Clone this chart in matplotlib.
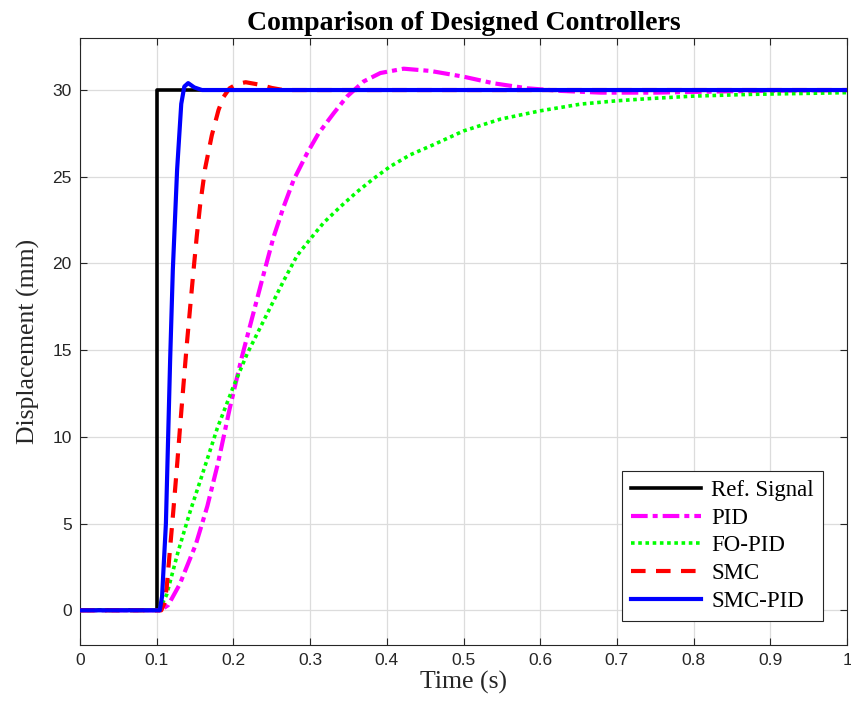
import matplotlib
matplotlib.use("Agg")
import matplotlib.pyplot as plt

# Reference step
t_ref = [0.0, 0.1, 0.1, 1.0]
v_ref = [0.0, 0.0, 30.0, 30.0]

# PID
t_pid = [0.0, 0.105, 0.115, 0.13, 0.151, 0.166, 0.18, 0.195, 0.211, 0.2372, 0.2524,
         0.2655, 0.2785, 0.296, 0.311, 0.3307, 0.348, 0.37, 0.3916, 0.422, 0.457,
         0.5, 0.539, 0.583, 0.627, 0.679, 0.75, 0.85, 1.0]
v_pid = [0.0, 0.0, 0.3, 1.5, 3.8, 6.0, 8.5, 11.6, 14.6, 19.02, 21.53,
         23.27, 24.81, 26.35, 27.5, 28.66, 29.62, 30.5, 30.98, 31.23, 31.1,
         30.77, 30.39, 30.1, 29.95, 29.85, 29.85, 29.93, 30.0]

# FO-PID
t_fopid = [0.0, 0.103, 0.113, 0.128, 0.1436, 0.157, 0.179, 0.2, 0.218, 0.244, 0.2655,
           0.283, 0.30, 0.3177, 0.3394, 0.3612, 0.383, 0.4047, 0.4308, 0.461, 0.5,
           0.548, 0.6, 0.653, 0.70, 0.74, 0.80, 0.875, 0.94, 1.0]
v_fopid = [0.0, 0.0, 0.9, 3.4, 5.7, 7.5, 10.5, 12.9, 14.8, 17.1, 19.0,
           20.45, 21.4, 22.35, 23.27, 24.13, 24.9, 25.6, 26.27, 26.85, 27.64,
           28.32, 28.8, 29.19, 29.38, 29.5, 29.65, 29.75, 29.8, 29.85]

# SMC
t_smc = [0.0, 0.106, 0.110, 0.113, 0.1175, 0.1218, 0.127, 0.1305, 0.1349, 0.1392,
         0.1445, 0.148, 0.1523, 0.1567, 0.1632, 0.1719, 0.1806, 0.1871, 0.195,
         0.205, 0.216, 0.235, 0.25, 0.265, 1.0]
v_smc = [0.0, 0.0, 0.4, 1.3, 3.6, 5.8, 8.6, 10.6, 13.0, 15.3,
         17.9, 19.6, 21.6, 23.4, 25.5, 27.4, 28.85, 29.6, 30.1,
         30.35, 30.45, 30.3, 30.12, 30.0, 30.0]

# SMC-PID
t_smcpid = [0.0, 0.104, 0.107, 0.112, 0.1175, 0.121, 0.1266, 0.132, 0.136, 0.141,
            0.149, 0.159, 1.0]
v_smcpid = [0.0, 0.0, 0.8, 5.0, 14.4, 19.6, 25.4, 29.2, 30.2, 30.4,
            30.15, 30.0, 30.0]

x_ticks = [0, 0.1, 0.2, 0.3, 0.4, 0.5, 0.6, 0.7, 0.8, 0.9, 1]
x_ticklabels = ["0", "0.1", "0.2", "0.3", "0.4", "0.5", "0.6", "0.7", "0.8", "0.9", "1"]
y_ticks = [0, 5, 10, 15, 20, 25, 30]

serif = ["Liberation Serif", "DejaVu Serif"]
sans = ["Liberation Sans", "DejaVu Sans"]

fig = plt.figure(figsize=(8.51, 7.22), dpi=100)
ax = fig.add_axes([80 / 851, 77 / 722, 767 / 851, 607 / 722])

ax.plot(t_ref, v_ref, color="black", lw=2.6, label="Ref. Signal", zorder=3)
ax.plot(t_pid, v_pid, color="#ff00ff", lw=3.0, ls=(0, (4, 1.2, 1.2, 1.2)), label="PID", zorder=3)
ax.plot(t_fopid, v_fopid, color="#00ff00", lw=2.6, ls=(0, (1, 1)), label="FO-PID", zorder=3)
ax.plot(t_smc, v_smc, color="#ff0000", lw=3.0, ls=(0, (3.5, 2.5)), label="SMC", zorder=4)
ax.plot(t_smcpid, v_smcpid, color="#0000ff", lw=3.0, label="SMC-PID", zorder=5)

ax.set_xlim(0, 1)
ax.set_ylim(-2, 33)
ax.set_xticks(x_ticks)
ax.set_xticklabels(x_ticklabels)
ax.set_yticks(y_ticks)
ax.grid(True, color="#dcdcdc", lw=0.9)
ax.set_axisbelow(True)
ax.tick_params(direction="in", top=True, right=True, length=5, width=0.8,
               colors="#262626", labelsize=12.5, pad=6)
for lab in ax.get_xticklabels() + ax.get_yticklabels():
    lab.set_family(sans)
    lab.set_color("#262626")
for sp in ax.spines.values():
    sp.set_color("#262626")
    sp.set_linewidth(0.8)

ax.set_xlabel("Time (s)", family=serif, fontsize=18.5, color="#262626", labelpad=2)
ax.set_ylabel("Displacement (mm)", family=serif, fontsize=18.5, color="#262626", labelpad=9)
ax.set_title("Comparison of Designed Controllers", family=serif, fontsize=20,
             fontweight="bold", color="black", pad=6)

leg = ax.legend(loc="lower right", prop={"family": serif, "size": 16.5},
                handlelength=3.05, handletextpad=0.45, fancybox=False,
                edgecolor="#262626", framealpha=1, borderpad=0.4,
                labelspacing=0.29, borderaxespad=0,
                bbox_to_anchor=((823 - 80) / 767, (645 - 621) / 607))
leg.get_frame().set_linewidth(0.8)

fig.savefig("out.png", dpi=100)
